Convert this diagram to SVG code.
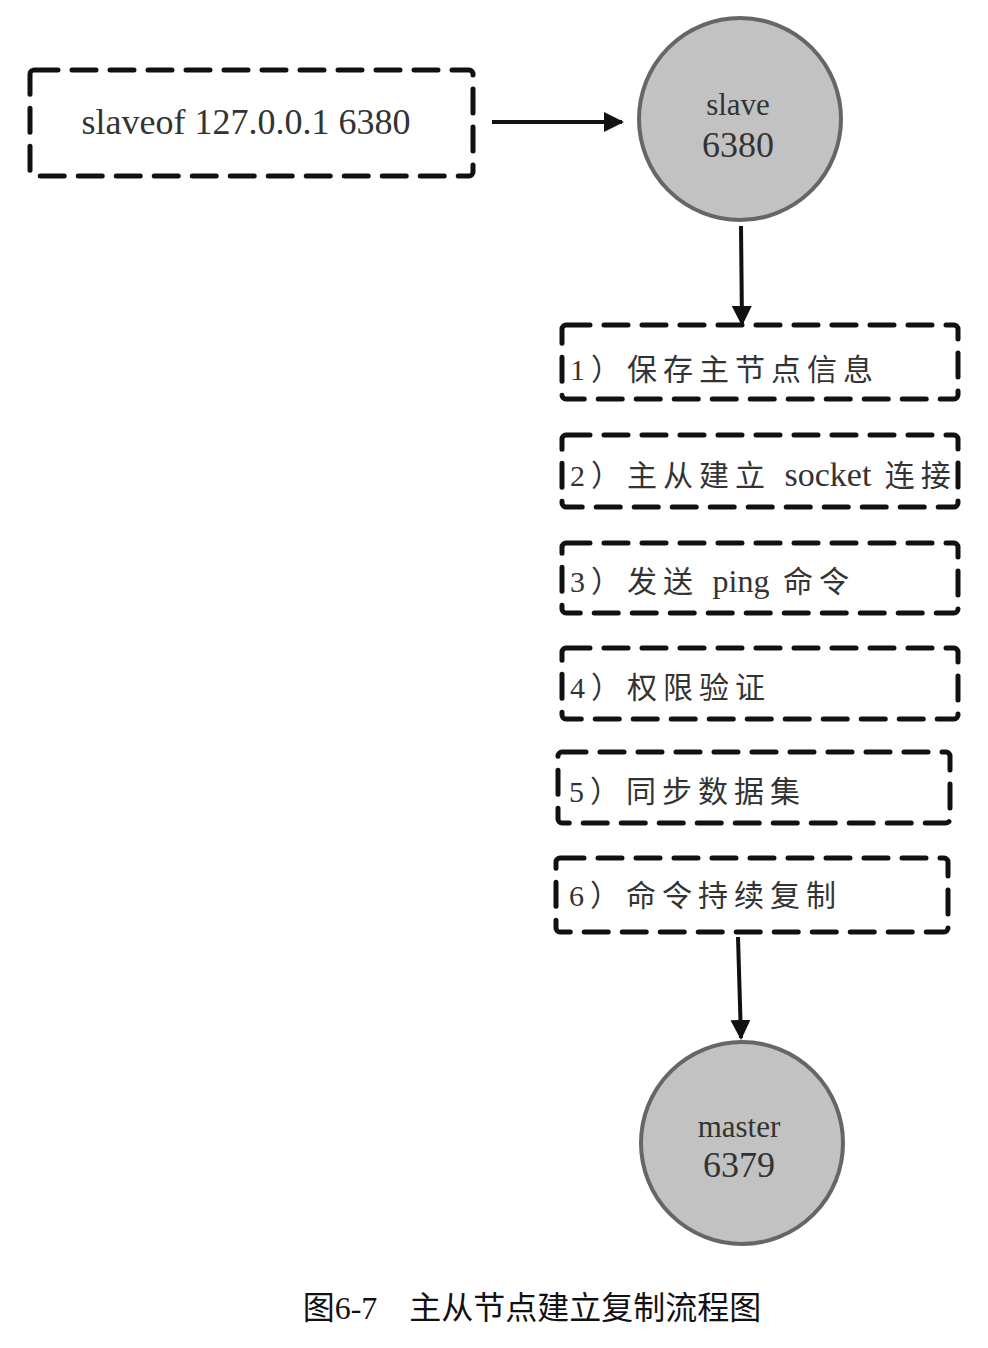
<svg xmlns="http://www.w3.org/2000/svg" width="988" height="1348" viewBox="0 0 988 1348">
<defs>
<marker id="ah" viewBox="0 0 10 10" refX="9" refY="5" markerWidth="5" markerHeight="5" orient="auto" markerUnits="strokeWidth">
<path d="M0,0 L10,5 L0,10 z" fill="#111"/>
</marker>
<style>
.box{fill:none;stroke:#111;stroke-width:5;stroke-dasharray:24 14;stroke-linecap:round}
.circ{fill:#c2c2c2;stroke:#666;stroke-width:4}
.t{font-family:"Liberation Serif","Noto Sans CJK SC",serif;fill:#333}
.lbl{font-size:31px}
.step{font-size:30px;letter-spacing:6px}
.lat{letter-spacing:0}
.conn{stroke:#111;stroke-width:4;fill:none;marker-end:url(#ah)}
</style>
</defs>
<rect width="988" height="1348" fill="#fff"/>
<g id="cmd">
<rect class="box" x="30" y="70" width="443" height="106" rx="4"/>
<text class="t" x="246" y="134" text-anchor="middle" font-size="36">slaveof 127.0.0.1 6380</text>
</g>
<g id="slave">
<circle class="circ" cx="740" cy="119" r="101"/>
<text class="t lbl" x="738" y="115" text-anchor="middle">slave</text>
<text class="t" x="738" y="157" text-anchor="middle" font-size="36">6380</text>
</g>
<g id="step1">
<rect class="box" x="562" y="325" width="396" height="74" rx="4"/>
<text class="t step" x="570" y="380" letter-spacing="6.5">1）保存主节点信息</text>
</g>
<g id="step2">
<rect class="box" x="562" y="435" width="396" height="72" rx="4"/>
<text class="t step" x="570" y="486">2）主从建立 <tspan class="lat" font-size="34">socket</tspan> 连接</text>
</g>
<g id="step3">
<rect class="box" x="562" y="543" width="396" height="70" rx="4"/>
<text class="t step" x="570" y="592">3）发送 <tspan class="lat" font-size="32">ping</tspan> 命令</text>
</g>
<g id="step4">
<rect class="box" x="562" y="648" width="396" height="71" rx="4"/>
<text class="t step" x="570" y="698" letter-spacing="5.5">4）权限验证</text>
</g>
<g id="step5">
<rect class="box" x="558" y="752" width="392" height="71" rx="4"/>
<text class="t step" x="569" y="802" letter-spacing="5.5">5）同步数据集</text>
</g>
<g id="step6">
<rect class="box" x="556" y="858" width="392" height="74" rx="4"/>
<text class="t step" x="569" y="906">6）命令持续复制</text>
</g>
<g id="master">
<circle class="circ" cx="742" cy="1143" r="101"/>
<text class="t lbl" x="739" y="1137" text-anchor="middle">master</text>
<text class="t" x="739" y="1177" text-anchor="middle" font-size="36">6379</text>
</g>
<g id="connectors">
<line class="conn" x1="492" y1="122" x2="622" y2="122"/>
<line class="conn" x1="741" y1="226" x2="742" y2="324"/>
<line class="conn" x1="738" y1="937" x2="741" y2="1038"/>
</g>
<text x="532" y="1319" text-anchor="middle" font-family="'Liberation Serif','Noto Sans CJK SC',serif" font-size="32" fill="#111">图6-7　主从节点建立复制流程图</text>
</svg>
